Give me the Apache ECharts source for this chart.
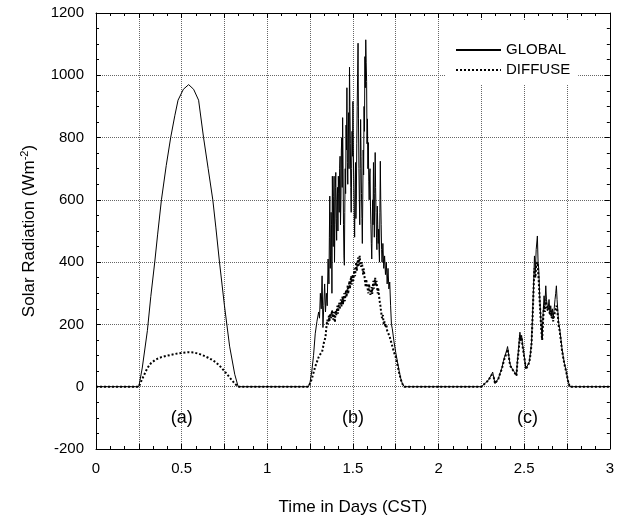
<!DOCTYPE html>
<html>
<head>
<meta charset="utf-8">
<script src="https://cdn.jsdelivr.net/npm/echarts@6/dist/echarts.min.js"></script>
<style>html,body{margin:0;padding:0;background:#fff}#c{width:617px;height:521px}</style>
</head>
<body>
<div id="c"></div>
<script>
// ---- Day (a): clear day ----
const timeA    = [0.25,0.27,0.30,0.32,0.343,0.36,0.382,0.41,0.436,0.46,0.479,0.51,0.541,0.57,0.599,0.628,0.655,0.682,0.70,0.721,0.75,0.78,0.81,0.83];
const globalA  = [0,60,180,290,400,490,600,710,800,870,920,955,970,955,920,800,700,600,510,400,260,130,40,0];
const diffuseA = [0,25,60,75,85,90,95,99,102,105,107,109,111,110,106,100,93,85,78,68,50,30,10,0];

// ---- Day (b): broken clouds ----
const timeB = [
  1.24,1.25,1.26,1.27,1.28,1.29,1.30,1.305,1.31,1.315,1.32,1.325,1.33,1.335,1.34,1.345,1.35,1.355,
  1.36,1.3625,1.365,1.3675,1.37,1.3725,1.375,1.3775,1.38,1.3825,
  1.385,1.3875,1.39,1.3925,1.395,1.3975,1.40,1.4025,1.405,1.4075,
  1.41,1.4125,1.415,1.4175,1.42,1.4225,1.425,1.4275,1.43,1.4325,
  1.435,1.4375,1.44,1.4425,1.445,1.4475,1.45,1.4525,1.455,1.4575,
  1.46,1.4625,1.465,1.4675,1.47,1.4725,1.475,1.4775,1.48,1.4825,
  1.485,1.4875,1.49,1.4925,1.495,1.4975,1.50,1.5025,1.505,1.5075,
  1.51,1.5125,1.515,1.5175,1.52,1.5225,1.525,1.5275,1.53,1.5325,
  1.535,1.5375,1.54,1.5425,1.545,1.5475,1.55,1.5525,1.555,1.5575,
  1.56,1.5625,1.565,1.5675,1.57,1.5725,1.575,1.5775,1.58,1.5825,
  1.585,1.5875,1.59,1.5925,1.595,1.5975,1.60,1.6025,1.605,1.6075,
  1.61,1.6125,1.615,1.6175,1.62,1.6225,1.625,1.6275,1.63,1.6325,
  1.635,1.6375,1.64,1.6425,1.645,1.6475,1.65,1.6525,1.655,1.6575,
  1.66,1.6625,1.665,1.6675,1.67,
  1.675,1.68,1.685,1.69,1.695,1.70,1.705,1.71,1.715,1.72,1.725,1.73,1.74,1.75,1.76,1.77,1.78,1.79,1.80];
const globalB = [
  0,15,50,100,170,210,240,220,300,250,356,190,260,330,240,300,260,410,
  330,480,612,380,420,560,520,300,676,560,
  450,610,676,400,520,640,688,540,470,600,
  640,500,676,620,560,700,740,520,600,760,
  800,640,864,700,520,420,390,560,700,620,
  840,760,960,720,650,800,880,700,1026,900,
  780,640,560,700,820,740,916,760,640,560,
  480,620,720,540,600,780,900,1000,1103,860,
  700,600,520,700,858,740,620,540,460,600,
  760,680,900,820,1060,960,1114,1040,980,780,
  860,700,784,660,600,680,700,580,520,460,
  410,500,600,520,720,600,480,620,752,640,
  560,480,440,580,520,460,506,440,400,560,
  724,600,520,440,400,
  460,380,420,360,400,330,380,314,336,260,200,186,144,110,80,50,25,8,0];
const diffuseB = [
  0,10,25,45,65,80,95,100,105,108,112,125,140,150,160,190,215,200,
  228,210,215,235,240,220,225,245,250,230,
  215,240,235,215,207,235,245,230,225,250,
  260,235,240,262,270,248,250,272,280,258,
  255,280,290,265,270,292,300,275,280,300,
  310,288,290,315,325,298,300,330,340,315,
  320,345,355,328,330,352,360,340,345,372,
  380,355,360,390,400,372,370,400,415,385,
  390,412,420,395,400,385,380,400,395,370,
  360,380,385,355,340,330,320,345,350,325,
  330,310,300,320,330,305,310,295,290,312,
  320,298,300,330,340,315,310,340,350,325,
  320,340,336,310,300,318,320,292,280,270,
  262,250,240,228,220,
  230,200,210,190,200,180,185,176,160,150,140,130,110,95,70,45,22,8,0];

// ---- Day (c): overcast ----
const timeC = [2.25,2.26,2.27,2.281,2.29,2.30,2.31,2.316,2.322,2.33,2.34,2.349,2.36,2.37,2.378,2.385,2.39,2.397,2.403,2.41,2.415,2.42,2.428,2.436,2.445,2.455,2.46,2.467,2.475,2.48,2.485,2.49,2.50,2.51,2.52,2.53,2.537,2.543,2.55,2.556,2.56,2.565,2.57,2.577,2.581,2.585,2.59,2.595,2.60,2.605,2.61,2.616,2.621,2.626,2.63,2.634,2.64,2.645,2.65,2.655,2.66,2.665,2.669,2.675,2.68,2.684,2.688,2.692,2.698,2.70,2.707,2.715,2.72,2.727,2.735,2.746,2.755,2.766];
const globalC = [0,5,10,13,20,25,40,47,30,10,15,26,45,60,80,95,100,115,129,100,80,68,60,53,45,36,80,120,175,150,165,138,100,58,64,80,110,143,250,346,420,370,440,484,400,378,300,240,190,154,230,292,260,324,280,262,250,280,240,260,230,250,218,250,280,300,324,280,230,210,186,150,125,100,75,48,22,0];
const diffuseC = [0,5,10,13,20,25,38,44,30,10,15,25,43,58,76,90,95,108,120,98,78,66,58,52,44,35,76,112,165,145,158,132,96,56,62,78,105,138,235,330,380,350,390,400,370,340,280,230,180,150,210,260,240,280,260,245,240,255,230,245,220,235,210,230,240,250,260,250,220,200,180,145,120,96,72,46,20,0];

// ---- Axis tick labels and annotations ----
const xTickLabels = {'0':'0','0.5':'0.5','1':'1','1.5':'1.5','2':'2','2.5':'2.5','3':'3'};
const panelLabels = [[0.5,-100,'(a)'],[1.5,-100,'(b)'],[2.52,-100,'(c)']];

function build(ts, vs){ return ts.map((t,i)=>[t, vs[i]]); }
const globalData  = [[0,0]].concat(build(timeA,globalA), build(timeB,globalB), build(timeC,globalC), [[3,0]]);
const diffuseData = [[0,0]].concat(build(timeA,diffuseA), build(timeB,diffuseB), build(timeC,diffuseC), [[3,0]]);

const FONT = "'Liberation Sans', Arial, Helvetica, sans-serif";
const chart = echarts.init(document.getElementById('c'), null, {renderer:'canvas'});
const axisLine = {show:true, onZero:false, lineStyle:{color:'#000', width:1}};
const splitLine = {show:true, lineStyle:{color:'#666', type:'dotted', width:1}};

chart.setOption({
  animation:false,
  backgroundColor:'#fff',
  textStyle:{fontFamily:FONT, color:'#000'},
  grid:{left:96, right:6, top:13, bottom:70.5, containLabel:false},
  legend:{
    data:['GLOBAL','DIFFUSE'], orient:'vertical', left:445, top:20,
    padding:[22,8,7,10], itemGap:4, itemWidth:45, itemHeight:10,
    backgroundColor:'#fff',
    itemStyle:{opacity:0, color:'rgba(0,0,0,0)', borderWidth:0},
    textStyle:{fontFamily:FONT, fontSize:15, color:'#000', lineHeight:16}
  },
  xAxis:[{
    type:'value', min:0, max:3, interval:0.25, position:'bottom',
    name:'Time in Days (CST)', nameLocation:'middle', nameGap:50,
    nameTextStyle:{fontFamily:FONT, fontSize:17, color:'#000'},
    axisLine:axisLine,
    axisTick:{show:true, inside:true, length:5, lineStyle:{color:'#000'}},
    minorTick:{show:true, splitNumber:3, length:3, lineStyle:{color:'#000'}},
    splitLine:splitLine,
    axisLabel:{margin:12, fontSize:15, color:'#000', fontFamily:FONT,
      formatter:v=>{const k=String(+v.toFixed(2)); return xTickLabels[k]!==undefined?xTickLabels[k]:'';}}
  },{
    type:'value', min:0, max:3, interval:0.25, position:'top',
    axisLine:axisLine,
    axisTick:{show:true, inside:true, length:5, lineStyle:{color:'#000'}},
    minorTick:{show:true, splitNumber:3, length:3, lineStyle:{color:'#000'}},
    splitLine:{show:false}, axisLabel:{show:false}
  }],
  yAxis:[{
    type:'value', min:-200, max:1200, interval:200, position:'left',
    name:'Solar Radiation (Wm{sup|-2})', nameLocation:'middle', nameGap:56, nameRotate:90,
    nameTextStyle:{fontFamily:FONT, fontSize:17, color:'#000',
      rich:{sup:{fontFamily:FONT, fontSize:11, color:'#000', padding:[0,0,10,0]}}},
    axisLine:axisLine,
    axisTick:{show:true, inside:true, length:5, lineStyle:{color:'#000'}},
    minorTick:{show:true, splitNumber:4, length:3, lineStyle:{color:'#000'}},
    splitLine:splitLine,
    axisLabel:{margin:12, fontSize:15, color:'#000', fontFamily:FONT, formatter:v=>String(v)}
  },{
    type:'value', min:-200, max:1200, interval:200, position:'right',
    axisLine:axisLine,
    axisTick:{show:true, inside:true, length:5, lineStyle:{color:'#000'}},
    minorTick:{show:true, splitNumber:4, length:3, lineStyle:{color:'#000'}},
    splitLine:{show:false}, axisLabel:{show:false}
  }],
  series:[
    {name:'GLOBAL', type:'line', data:globalData, symbol:'none', showSymbol:false,
      lineStyle:{color:'#000', width:1, type:'solid'}, itemStyle:{color:'#000'}, z:3},
    {name:'DIFFUSE', type:'line', data:diffuseData, symbol:'none', showSymbol:false,
      lineStyle:{color:'#000', width:2, type:[2,2]}, itemStyle:{color:'#000'}, z:4},
    {name:'labels', type:'scatter', data:panelLabels.map(p=>({value:[p[0],p[1]], name:p[2]})),
      symbolSize:0, silent:true, itemStyle:{opacity:1, color:'#000'},
      label:{show:true, position:'inside', formatter:p=>p.name, fontFamily:FONT, fontSize:18, color:'#000', opacity:1}}
  ]
});
</script>
</body>
</html>
